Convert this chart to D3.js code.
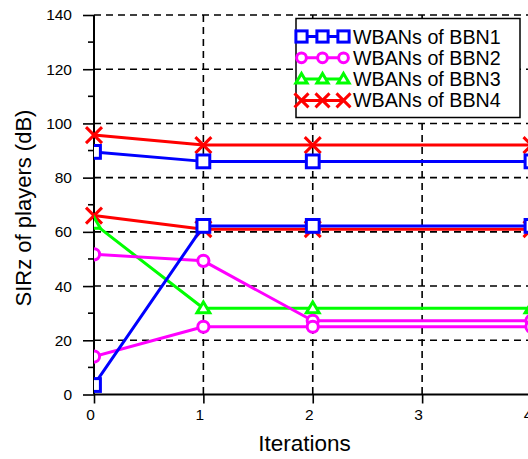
<!DOCTYPE html>
<html>
<head>
<meta charset="utf-8">
<script src="https://cdn.jsdelivr.net/npm/d3@7"></script>
<style>
  html, body { margin: 0; padding: 0; background: #fff; }
  svg text { font-family: "Liberation Sans", Arial, Helvetica, sans-serif; fill: #000; }
</style>
</head>
<body>
<svg id="chart" width="528" height="459"></svg>
<script>
// Iteration index of each recorded point
const iterations = [0, 1, 2, 4];

// SIRz (dB) of the two WBANs in each body-to-body network
const bbn1WbanA = [89.5, 86, 86, 86];
const bbn1WbanB = [3.5, 62.2, 62.2, 62.2];
const bbn2WbanA = [51.7, 49.3, 27.2, 27.2];
const bbn2WbanB = [14, 25, 25, 25];
const bbn3WbanA = [63, 31.8, 31.8, 31.8];
const bbn4WbanA = [95.7, 92, 92, 92];
const bbn4WbanB = [66, 61, 61, 61];

const seriesNames = ["WBANs of BBN1", "WBANs of BBN2", "WBANs of BBN3", "WBANs of BBN4"];
const seriesColors = ["#0000ff", "#ff00ff", "#00ff00", "#ff0000"];
const seriesSymbols = ["square", "circle", "triangle", "cross"];

const xTicks = [0, 1, 2, 3, 4];
const yTicks = [0, 20, 40, 60, 80, 100, 120, 140];
const yMinorTicks = [10, 30, 50, 70, 90, 110, 130];

const svg = d3.select("#chart");
const plotLeft = 94, plotBottom = 394.5, plotTop = 15, plotRight = 531.5;

const x = d3.scaleLinear().domain([0, 4]).range([plotLeft, plotRight]);
const y = d3.scaleLinear().domain([0, 140]).range([plotBottom, plotTop]);

// dashed grid
const grid = svg.append("g").attr("stroke", "#000").attr("stroke-width", 1.6)
  .attr("stroke-dasharray", "7,5");
grid.selectAll("line.h").data(yTicks.filter(d => d > 0)).join("line")
  .attr("x1", plotLeft).attr("x2", 528).attr("y1", d => y(d)).attr("y2", d => y(d));
grid.selectAll("line.v").data(xTicks.filter(d => d > 0)).join("line")
  .attr("x1", d => x(d)).attr("x2", d => x(d)).attr("y1", plotTop).attr("y2", plotBottom);

// axes
const yAxis = d3.axisLeft(y).tickValues(yTicks).tickSize(11).tickPadding(10)
  .tickFormat(d3.format("d"));
const gy = svg.append("g").attr("transform", `translate(${plotLeft},0)`).call(yAxis);
gy.select(".domain").remove();
gy.selectAll(".tick line").attr("stroke", "#000").attr("stroke-width", 1.6);
gy.selectAll(".tick text").attr("font-size", 15.5).attr("dx", -1);
svg.append("g").selectAll("line").data(yMinorTicks).join("line")
  .attr("x1", plotLeft - 6).attr("x2", plotLeft).attr("y1", d => y(d)).attr("y2", d => y(d))
  .attr("stroke", "#000").attr("stroke-width", 1.6);

const xAxis = d3.axisBottom(x).tickValues(xTicks).tickSize(9).tickPadding(5)
  .tickFormat(d3.format("d"));
const gx = svg.append("g").attr("transform", `translate(0,${plotBottom})`).call(xAxis);
gx.select(".domain").remove();
gx.selectAll(".tick line").attr("stroke", "#000").attr("stroke-width", 1.6);
gx.selectAll(".tick text").attr("font-size", 15.5).attr("dx", -4);

svg.append("line").attr("x1", plotLeft).attr("x2", plotLeft).attr("y1", plotTop).attr("y2", plotBottom)
  .attr("stroke", "#000").attr("stroke-width", 2);
svg.append("line").attr("x1", plotLeft).attr("x2", 528).attr("y1", plotBottom).attr("y2", plotBottom)
  .attr("stroke", "#000").attr("stroke-width", 2);

// axis titles
svg.append("text").attr("x", 304.5).attr("y", 451).attr("text-anchor", "middle")
  .attr("font-size", 22.5).text("Iterations");
svg.append("text").attr("transform", "translate(31,208) rotate(-90)")
  .attr("text-anchor", "middle").attr("font-size", 22).text("SIRz of players (dB)");

// marker drawing
function drawMarker(g, sym, color, cx, cy, s) {
  if (sym === "square") {
    g.append("rect").attr("x", cx - s * 0.8).attr("y", cy - s * 0.8)
      .attr("width", s * 1.6).attr("height", s * 1.6)
      .attr("fill", "#fff").attr("stroke", color).attr("stroke-width", 3);
  } else if (sym === "circle") {
    g.append("circle").attr("cx", cx).attr("cy", cy).attr("r", s * 0.7)
      .attr("fill", "#fff").attr("stroke", color).attr("stroke-width", 3);
  } else if (sym === "triangle") {
    const h = s * 0.8;
    g.append("path")
      .attr("d", `M${cx},${cy - h}L${cx + h},${cy + h * 0.7}L${cx - h},${cy + h * 0.7}Z`)
      .attr("fill", "#fff").attr("stroke", color).attr("stroke-width", 3);
  } else {
    const h = s;
    g.append("path")
      .attr("d", `M${cx - h},${cy - h}L${cx + h},${cy + h}M${cx - h},${cy + h}L${cx + h},${cy - h}`)
      .attr("stroke", color).attr("stroke-width", 3).attr("fill", "none");
  }
}

svg.append("clipPath").attr("id", "plotClip").append("rect")
  .attr("x", plotLeft).attr("y", 0).attr("width", 528 - plotLeft).attr("height", 420);

const line = d3.line().x((d, i) => x(iterations[i])).y(d => y(d));

// drawn back to front: BBN4, BBN3, BBN2, BBN1
const layers = [
  { k: 3, data: [bbn4WbanA, bbn4WbanB], clip: false },
  { k: 2, data: [bbn3WbanA], clip: true },
  { k: 1, data: [bbn2WbanA, bbn2WbanB], clip: true },
  { k: 0, data: [bbn1WbanA, bbn1WbanB], clip: true }
];
layers.forEach(layer => {
  const g = svg.append("g");
  if (layer.clip) g.attr("clip-path", "url(#plotClip)");
  const color = seriesColors[layer.k];
  layer.data.forEach(vals => {
    g.append("path").datum(vals).attr("d", line)
      .attr("fill", "none").attr("stroke", color).attr("stroke-width", 3)
      .attr("stroke-linejoin", "round");
  });
  layer.data.forEach(vals => {
    vals.forEach((v, i) => drawMarker(g, seriesSymbols[layer.k], color, x(iterations[i]), y(v), 8));
  });
});

// legend
const lg = svg.append("g");
lg.append("rect").attr("x", 296).attr("y", 18.5).attr("width", 224).attr("height", 99)
  .attr("fill", "#fff").attr("stroke", "#000").attr("stroke-width", 1.5);
seriesNames.forEach((name, i) => {
  const cy = 36.5 + i * 21.3;
  const color = seriesColors[i];
  lg.append("line").attr("x1", 301.5).attr("x2", 343.5).attr("y1", cy).attr("y2", cy)
    .attr("stroke", color).attr("stroke-width", 3);
  [301.5, 322.5, 343.5].forEach(cx => drawMarker(lg, seriesSymbols[i], color, cx, cy, 7));
  lg.append("text").attr("x", 353).attr("y", cy + 7).attr("font-size", 19.7).text(name);
});
</script>
</body>
</html>
